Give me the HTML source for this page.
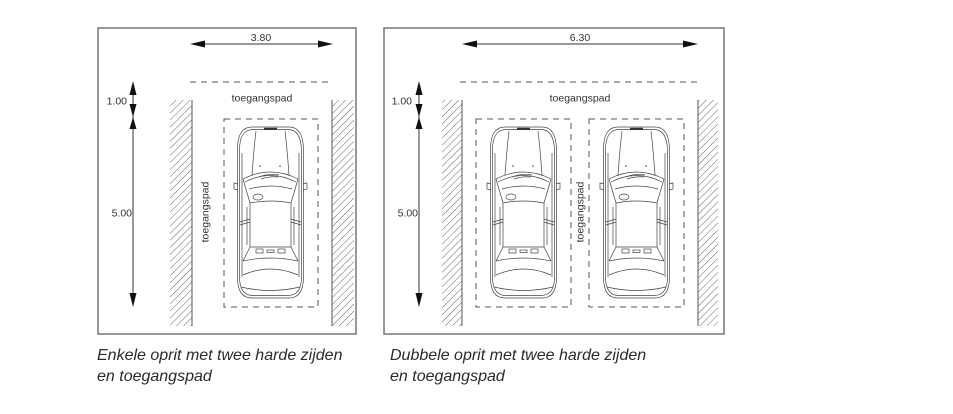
<!DOCTYPE html>
<html>
<head>
<meta charset="utf-8">
<style>
  html,body{margin:0;padding:0;background:#fff;}
  body{width:953px;height:414px;overflow:hidden;}
  svg{display:block;}
  .lbl{font-family:"Liberation Sans",Arial,sans-serif;font-size:10.5px;fill:#333;}
  .cap{font-family:"Liberation Sans",Arial,sans-serif;font-size:16px;font-style:italic;fill:#2a2a2a;}
</style>
</head>
<body>
<svg width="953" height="414" viewBox="0 0 953 414" xmlns="http://www.w3.org/2000/svg">
  <defs>
    <pattern id="hatch" patternUnits="userSpaceOnUse" width="5" height="5" patternTransform="rotate(45)">
      <line x1="0" y1="0" x2="0" y2="5" stroke="#555" stroke-width="0.9"/>
    </pattern>
    <g id="car" fill="none" stroke="#444" stroke-width="0.7">
      <path d="M15,0 H52 C62,0 66,8 66.5,22 V150 C66.5,164 62,171 52,171 H15 C5,171 0.5,164 0.5,150 V22 C0.5,8 5,0 15,0 Z"/>
      <path d="M16,2.5 H51 C60,2.5 64,10 64.5,23 V150 C64.5,162 60,168.5 51,168.5 H16 C7,168.5 2.5,162 2.5,150 V23 C2.5,10 7,2.5 16,2.5 Z"/>
      <path d="M5,26 V150 M62,26 V150"/>
      <rect x="27" y="0.8" width="13" height="2.2" fill="#333" stroke="none"/>
      <path d="M19,4 C17,20 16,35 15,48 M48,4 C50,20 51,35 52,48"/>
      <circle cx="23" cy="39" r="0.8" fill="#444" stroke="none"/>
      <circle cx="43" cy="39" r="0.8" fill="#444" stroke="none"/>
      <path d="M6,52 Q33.5,38 61,52 M8,55 Q33.5,42 59,55"/>
      <path d="M12,62 Q33.5,56 55,62"/>
      <path d="M22,50 Q32,46 42,48 M24,52 Q33,49 41,50"/>
      <path d="M1,57 L-3,56 L-3,62 L1,63 M66,57 L70,56 L70,62 L66,63"/>
      <ellipse cx="21" cy="70" rx="5" ry="3"/>
      <path d="M6,52 L13,76 M61,52 L54,76"/>
      <path d="M13,76 Q33.5,72 54,76"/>
      <path d="M13,76 V120 M54,76 V120 M10,80 V118 M57,80 V118"/>
      <path d="M3,95 L13,92 M64,95 L54,92 M3,98 L13,95 M64,98 L54,95"/>
      <path d="M13,120 L6,134 M54,120 L61,134 M13,120 H54"/>
      <rect x="19" y="122" width="7" height="4"/>
      <rect x="41" y="122" width="7" height="4"/>
      <rect x="30" y="123" width="7" height="2.5"/>
      <path d="M6,134 Q33.5,128 61,134"/>
      <path d="M6,148 Q33.5,136 61,148"/>
      <path d="M4,160 Q33.5,167 63,160"/>
    </g>
  </defs>

  <!-- ============ PANEL 1 ============ -->
  <rect x="98" y="28" width="258" height="306" fill="none" stroke="#777" stroke-width="1.5"/>

  <line x1="195" y1="44" x2="328" y2="44" stroke="#333" stroke-width="1"/>
  <polygon points="190,44 205,40.5 205,47.5" fill="#111"/>
  <polygon points="333,44 318,40.5 318,47.5" fill="#111"/>
  <text class="lbl" x="261" y="41" text-anchor="middle">3.80</text>

  <line x1="190" y1="82" x2="333" y2="82" stroke="#555" stroke-width="1" stroke-dasharray="6,5"/>
  <text class="lbl" x="262" y="101.5" text-anchor="middle">toegangspad</text>

  <rect x="170" y="100" width="22" height="226" fill="url(#hatch)"/>
  <line x1="192" y1="100" x2="192" y2="326" stroke="#555" stroke-width="1"/>
  <rect x="332" y="100" width="22" height="226" fill="url(#hatch)"/>
  <line x1="332" y1="100" x2="332" y2="326" stroke="#555" stroke-width="1"/>

  <line x1="133" y1="85" x2="133" y2="303" stroke="#333" stroke-width="1"/>
  <polygon points="133,81 129.5,95 136.5,95" fill="#111"/>
  <polygon points="129.5,104 136.5,104 133,117" fill="#111"/>
  <polygon points="133,117 129.5,129 136.5,129" fill="#111"/>
  <polygon points="133,307 129.5,293 136.5,293" fill="#111"/>
  <text class="lbl" x="127" y="104.5" text-anchor="end">1.00</text>
  <text class="lbl" x="132" y="216.5" text-anchor="end">5.00</text>

  <text class="lbl" x="0" y="0" text-anchor="middle" transform="translate(208.5,212) rotate(-90)">toegangspad</text>

  <rect x="224" y="119" width="94" height="188" fill="none" stroke="#555" stroke-width="1" stroke-dasharray="6,5"/>
  <use href="#car" transform="translate(237,127)"/>

  <!-- ============ PANEL 2 ============ -->
  <rect x="384" y="28" width="340" height="306" fill="none" stroke="#777" stroke-width="1.5"/>

  <line x1="467" y1="44" x2="693" y2="44" stroke="#333" stroke-width="1"/>
  <polygon points="462,44 477,40.5 477,47.5" fill="#111"/>
  <polygon points="698,44 683,40.5 683,47.5" fill="#111"/>
  <text class="lbl" x="580" y="41" text-anchor="middle">6.30</text>

  <line x1="460" y1="82" x2="702" y2="82" stroke="#555" stroke-width="1" stroke-dasharray="6,5"/>
  <text class="lbl" x="580" y="101.5" text-anchor="middle">toegangspad</text>

  <rect x="442" y="100" width="20" height="226" fill="url(#hatch)"/>
  <line x1="462" y1="100" x2="462" y2="326" stroke="#555" stroke-width="1"/>
  <rect x="698" y="100" width="20" height="226" fill="url(#hatch)"/>
  <line x1="698" y1="100" x2="698" y2="326" stroke="#555" stroke-width="1"/>

  <line x1="419" y1="85" x2="419" y2="303" stroke="#333" stroke-width="1"/>
  <polygon points="419,81 415.5,95 422.5,95" fill="#111"/>
  <polygon points="415.5,104 422.5,104 419,117" fill="#111"/>
  <polygon points="419,117 415.5,129 422.5,129" fill="#111"/>
  <polygon points="419,307 415.5,293 422.5,293" fill="#111"/>
  <text class="lbl" x="412" y="104.5" text-anchor="end">1.00</text>
  <text class="lbl" x="418" y="216.5" text-anchor="end">5.00</text>

  <text class="lbl" x="0" y="0" text-anchor="middle" transform="translate(583.5,212) rotate(-90)">toegangspad</text>

  <rect x="476" y="119" width="95" height="188" fill="none" stroke="#555" stroke-width="1" stroke-dasharray="6,5"/>
  <rect x="589" y="119" width="95" height="188" fill="none" stroke="#555" stroke-width="1" stroke-dasharray="6,5"/>
  <use href="#car" transform="translate(490,127)"/>
  <use href="#car" transform="translate(603,127)"/>

  <!-- ============ CAPTIONS ============ -->
  <text class="cap" x="97" y="360">Enkele oprit met twee harde zijden</text>
  <text class="cap" x="97" y="381">en toegangspad</text>
  <text class="cap" x="390" y="360">Dubbele oprit met twee harde zijden</text>
  <text class="cap" x="390" y="381">en toegangspad</text>
</svg>
</body>
</html>
